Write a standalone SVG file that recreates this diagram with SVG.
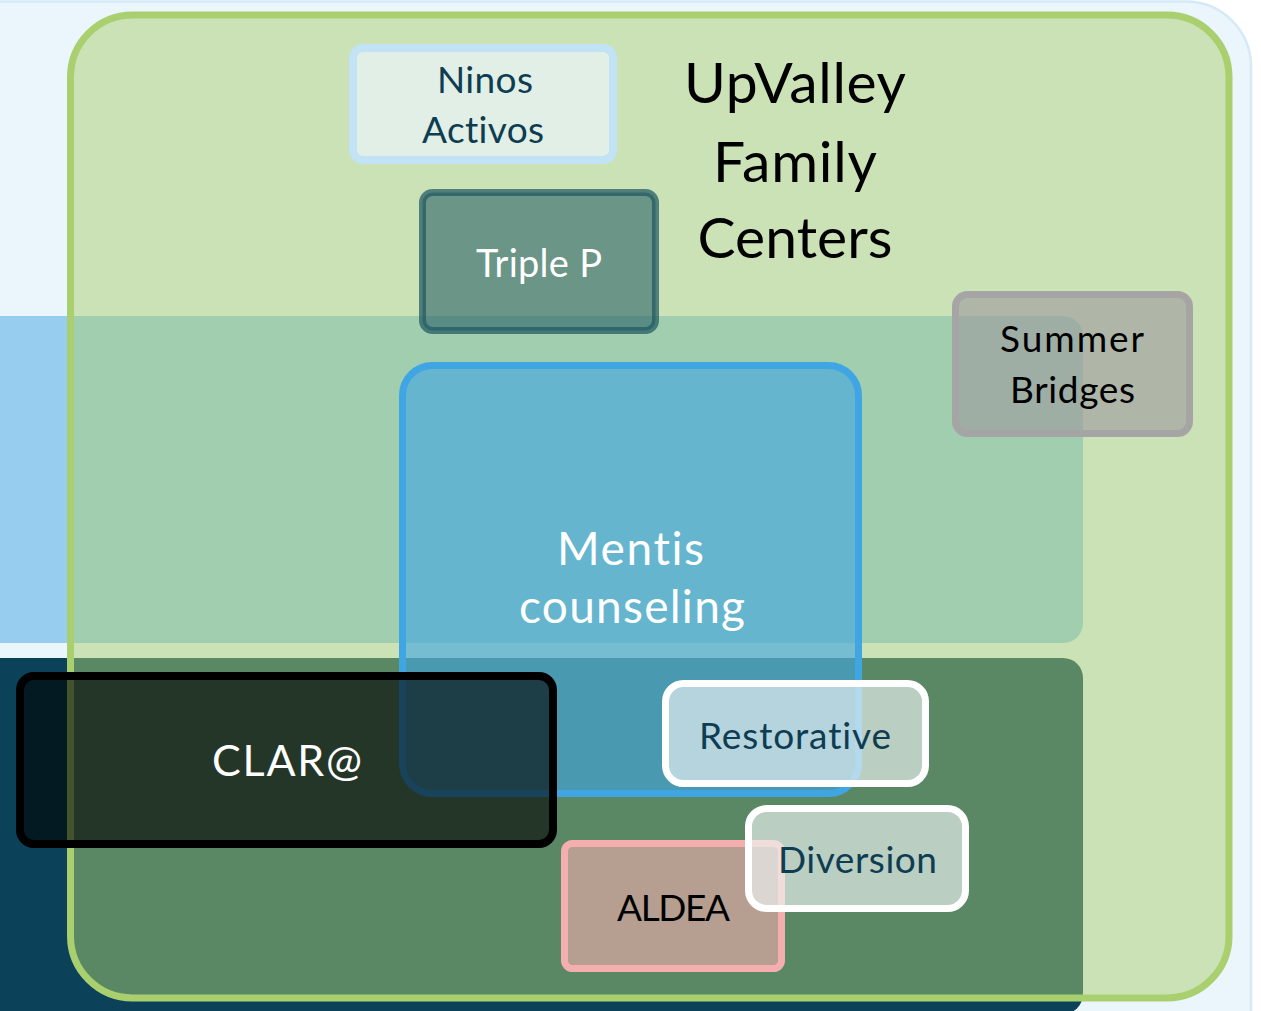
<svg xmlns="http://www.w3.org/2000/svg" width="1261" height="1011" viewBox="0 0 1261 1011">
<style>
text{font-family:Lato,"Open Sans","Liberation Sans",sans-serif;text-anchor:middle;font-variant-ligatures:none}
.dark{fill:#0E3D52}
.blk{fill:#000}
.wht{fill:#fff}
</style>
<rect width="1261" height="1011" fill="#ffffff"/>
<g id="background">
<rect x="-100" y="1.5" width="1351" height="1100" rx="65" fill="#EAF5FC" stroke="#D5E9F7" stroke-width="2.5"/>
</g>
<g id="band-light">
<rect x="-50" y="316" width="1133" height="327" rx="20" fill="#97CDEE"/>
</g>
<g id="band-dark">
<rect x="-50" y="658" width="1133" height="356" rx="20" fill="#0B4159"/>
</g>
<g id="upvalley">
<rect x="70.5" y="15" width="1158.5" height="983" rx="62" fill="#A9CF70" fill-opacity="0.5" stroke="#A9CF6E" stroke-width="7"/>
<text x="795" y="103" font-size="57" class="blk" textLength="222">UpValley</text>
<text x="795" y="182" font-size="57" class="blk" textLength="164">Family</text>
<text x="795" y="258" font-size="57" class="blk" textLength="195">Centers</text>
</g>
<g id="ninos">
<rect x="353" y="48" width="260" height="112" rx="10" fill="#E1EFE6" stroke="#C2E2F6" stroke-width="8"/>
<text x="485" y="93" font-size="37" class="dark" textLength="96">Ninos</text>
<text x="483" y="143" font-size="37" class="dark" textLength="122">Activos</text>
</g>
<g id="triplep">
<rect x="422.5" y="192.5" width="233" height="138" rx="10" fill="#1D5560" fill-opacity="0.55" stroke="#1D5560" stroke-opacity="0.7" stroke-width="7"/>
<text x="539" y="277" font-size="38" class="wht" textLength="126">Triple P</text>
</g>
<g id="summer">
<rect x="955.5" y="294.5" width="234" height="139" rx="12" fill="#9C999F" fill-opacity="0.6" stroke="#A5A5A5" stroke-width="7"/>
<text x="1072" y="352" font-size="37" class="blk" textLength="144">Summer</text>
<text x="1072.5" y="403" font-size="37" class="blk" textLength="125">Bridges</text>
</g>
<g id="mentis">
<rect x="402.5" y="365.5" width="456" height="428" rx="30" fill="#3EA5E5" fill-opacity="0.6" stroke="#3FA6E3" stroke-width="7"/>
<text x="630.5" y="565" font-size="46" class="wht" textLength="147">Mentis</text>
<text x="632" y="623" font-size="46" class="wht" textLength="226">counseling</text>
</g>
<g id="clara">
<rect x="20" y="676" width="533" height="168" rx="14" fill="#000" fill-opacity="0.6" stroke="#000" stroke-width="8"/>
<text x="287" y="776" font-size="43" class="wht" textLength="150">CLAR@</text>
</g>
<g id="restorative">
<rect x="665.5" y="683.5" width="260" height="100" rx="18" fill="#F0F4F5" fill-opacity="0.65" stroke="#FFFFFF" stroke-width="7"/>
<text x="795" y="749" font-size="37" class="dark" textLength="192">Restorative</text>
</g>
<g id="aldea">
<rect x="564.5" y="843.5" width="217" height="125" rx="8" fill="#F4AEAE" fill-opacity="0.6" stroke="#F4AEAE" stroke-width="7"/>
<text x="673.5" y="921" font-size="37" class="blk" textLength="113">ALDEA</text>
</g>
<g id="diversion">
<rect x="748.5" y="808.5" width="217" height="100" rx="18" fill="#F0F4F5" fill-opacity="0.65" stroke="#FFFFFF" stroke-width="7"/>
<text x="857.5" y="873" font-size="37" class="dark" textLength="159">Diversion</text>
</g>
</svg>
